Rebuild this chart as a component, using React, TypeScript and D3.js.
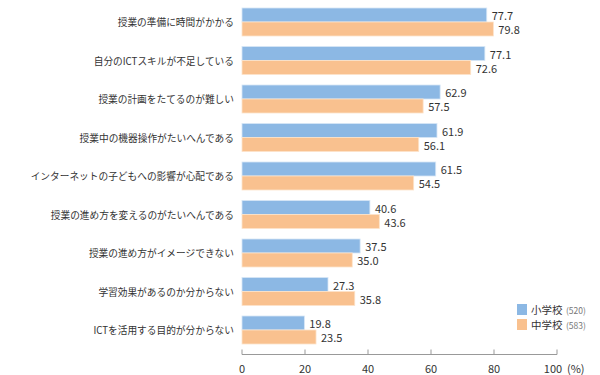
import React from "react";
import * as d3 from "d3";

const categories = [
  "授業の準備に時間がかかる",
  "自分のICTスキルが不足している",
  "授業の計画をたてるのが難しい",
  "授業中の機器操作がたいへんである",
  "インターネットの子どもへの影響が心配である",
  "授業の進め方を変えるのがたいへんである",
  "授業の進め方がイメージできない",
  "学習効果があるのか分からない",
  "ICTを活用する目的が分からない",
];
const elementary = [77.7, 77.1, 62.9, 61.9, 61.5, 40.6, 37.5, 27.3, 19.8];
const juniorHigh = [79.8, 72.6, 57.5, 56.1, 54.5, 43.6, 35.0, 35.8, 23.5];
const seriesNames = ["小学校", "中学校"];
const seriesCounts = ["(520)", "(583)"];
const xTicks = [0, 20, 40, 60, 80, 100];

const W = 600, H = 375;
const BLUE = "#8cb8e4";
const ORANGE = "#f9c18f";
const FONT = "'Noto Sans CJK JP', 'Noto Sans', sans-serif";

export default function App() {
  const x = d3.scaleLinear().domain([0, 100]).range([242, 557]);
  const bh = 14;
  const step = 38.5;
  const top0 = 8;
  const gy = (i: number) => top0 + i * step;
  const axisY = 354.5;
  return (
    <div style={{ position: "absolute", left: 0, top: 0 }}>
      <svg width={W} height={H} style={{ display: "block", background: "#fff" }} fontFamily={FONT}>
        {categories.map((c, i) => (
          <g key={c}>
            <text x={234} y={gy(i) + bh} textAnchor="end" dominantBaseline="central" fontSize={9.7} fill="#333">{c}</text>
            <rect x={x(0)} y={gy(i)} width={x(elementary[i]) - x(0)} height={bh} fill={BLUE} stroke="#d6e6f6" strokeWidth={0.8} />
            <rect x={x(0)} y={gy(i) + bh} width={x(juniorHigh[i]) - x(0)} height={bh} fill={ORANGE} stroke="#fde3ca" strokeWidth={0.8} />
            <text x={x(elementary[i]) + 5} y={gy(i) + bh / 2} dominantBaseline="central" fontSize={11} fill="#333">{elementary[i].toFixed(1)}</text>
            <text x={x(juniorHigh[i]) + 5} y={gy(i) + bh * 1.5} dominantBaseline="central" fontSize={11} fill="#333">{juniorHigh[i].toFixed(1)}</text>
          </g>
        ))}
        <line x1={x(0)} x2={x(100)} y1={axisY} y2={axisY} stroke="#999" strokeWidth={1} />
        {xTicks.map((t) => (
          <g key={t}>
            <line x1={x(t)} x2={x(t)} y1={axisY - 5} y2={axisY} stroke="#999" strokeWidth={1} />
            <text x={t === 100 ? x(t) - 4 : x(t)} y={368} textAnchor="middle" dominantBaseline="central" fontSize={11} fill="#333">{t}</text>
          </g>
        ))}
        <text x={x(100) + 10} y={368} dominantBaseline="central" fontSize={11} fill="#333">(%)</text>
        {seriesNames.map((s, i) => (
          <g key={s}>
            <rect x={517} y={304 + i * 15} width={10} height={11} fill={i === 0 ? BLUE : ORANGE} />
            <text x={531} y={309.5 + i * 15} dominantBaseline="central" fontSize={10.5} fill="#333">{s}</text>
            <text x={566} y={309.5 + i * 15} dominantBaseline="central" fontSize={8.5} fill="#777">{seriesCounts[i]}</text>
          </g>
        ))}
      </svg>
    </div>
  );
}
